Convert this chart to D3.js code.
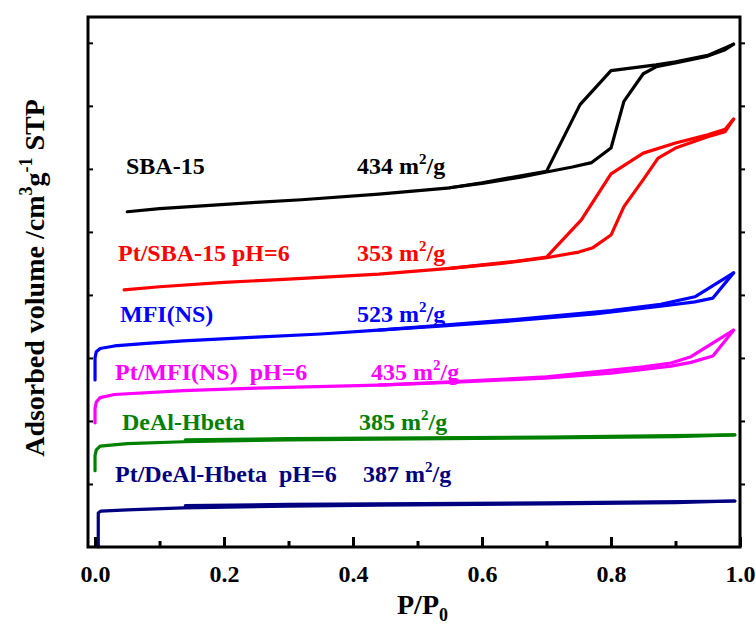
<!DOCTYPE html>
<html>
<head>
<meta charset="utf-8">
<script src="https://cdn.jsdelivr.net/npm/d3@7"></script>
<style>
  html, body { margin: 0; padding: 0; background: #fff; }
  svg { display: block; font-family: 'Liberation Serif', 'Times New Roman', serif; font-weight: bold; }
</style>
</head>
<body>
<div id="chart"></div>
<script>
// sample names and BET surface areas
const sampleNames = ['SBA-15', 'Pt/SBA-15 pH=6', 'MFI(NS)', 'Pt/MFI(NS)\u00a0\u00a0pH=6',
                     'DeAl-Hbeta', 'Pt/DeAl-Hbeta\u00a0\u00a0pH=6'];
const surfaceAreas = [434, 353, 523, 435, 385, 387];

// x axis tick values
const pTicks = [0.0, 0.2, 0.4, 0.6, 0.8, 1.0];
const pMinorTicks = [0.1, 0.3, 0.5, 0.7, 0.9];
// y axis ticks (no labels, offset units)
const vTicks = [1, 2, 3, 4, 5, 6, 7, 8];

// isotherms, [P/P0, volume] (curves offset vertically)
const sba15Ads = [[0.05, 5.32], [0.10, 5.37], [0.16, 5.41], [0.25, 5.47], [0.32, 5.51],
                  [0.44, 5.60], [0.55, 5.70], [0.60, 5.77], [0.66, 5.87], [0.70, 5.95],
                  [0.74, 6.03], [0.77, 6.10], [0.80, 6.33], [0.82, 7.07], [0.85, 7.51],
                  [0.87, 7.62], [0.90, 7.68], [0.95, 7.79], [0.977, 7.89], [0.99, 7.98]];
const sba15Des = [[0.99, 7.98], [0.95, 7.80], [0.90, 7.70], [0.87, 7.65], [0.80, 7.56],
                  [0.752, 7.02], [0.70, 5.96], [0.66, 5.89], [0.60, 5.78], [0.55, 5.70]];

const ptSbaAds = [[0.045, 4.08], [0.10, 4.13], [0.20, 4.20], [0.30, 4.25], [0.44, 4.33],
                  [0.55, 4.42], [0.63, 4.50], [0.70, 4.59], [0.75, 4.68], [0.772, 4.75],
                  [0.80, 4.95], [0.82, 5.40], [0.85, 5.83], [0.873, 6.17], [0.90, 6.33],
                  [0.95, 6.51], [0.977, 6.59], [0.99, 6.79]];
const ptSbaDes = [[0.99, 6.79], [0.977, 6.63], [0.95, 6.54], [0.90, 6.41], [0.85, 6.25],
                  [0.80, 5.92], [0.754, 5.19], [0.70, 4.60], [0.65, 4.53], [0.55, 4.42]];

const mfiAds = [[0.0, 2.65], [0.0, 3.00], [0.002, 3.10], [0.008, 3.15], [0.03, 3.19],
                [0.08, 3.23], [0.137, 3.27], [0.25, 3.33], [0.35, 3.38], [0.439, 3.44],
                [0.54, 3.51], [0.65, 3.59], [0.775, 3.70], [0.877, 3.82], [0.93, 3.89],
                [0.958, 3.95], [0.99, 4.35]];
const mfiDes = [[0.99, 4.35], [0.93, 3.97], [0.877, 3.85], [0.80, 3.75], [0.65, 3.61],
                [0.54, 3.52], [0.44, 3.44]];

const ptMfiAds = [[0.0, 1.97], [0.0, 2.20], [0.002, 2.30], [0.008, 2.37], [0.03, 2.42],
                  [0.137, 2.48], [0.25, 2.52], [0.439, 2.57], [0.55, 2.61], [0.698, 2.68],
                  [0.80, 2.76], [0.893, 2.87], [0.924, 2.93], [0.958, 3.03], [0.99, 3.44]];
const ptMfiDes = [[0.99, 3.44], [0.924, 3.02], [0.893, 2.92], [0.85, 2.86], [0.70, 2.70],
                  [0.55, 2.62], [0.44, 2.57]];

const dealAds = [[0.0, 1.21], [0.0, 1.45], [0.002, 1.54], [0.008, 1.60], [0.05, 1.64],
                 [0.137, 1.67], [0.30, 1.70], [0.439, 1.71], [0.70, 1.73], [0.90, 1.75],
                 [0.992, 1.78]];
const dealDes = [[0.992, 1.78], [0.70, 1.745], [0.30, 1.72], [0.14, 1.70]];

const ptDealAds = [[0.005, 0.0], [0.005, 0.30], [0.005, 0.54], [0.009, 0.57], [0.05, 0.59],
                   [0.137, 0.62], [0.30, 0.65], [0.439, 0.665], [0.70, 0.685], [0.90, 0.705],
                   [0.992, 0.73]];
const ptDealDes = [[0.992, 0.73], [0.70, 0.70], [0.30, 0.675], [0.14, 0.655]];

const isotherms = [[sba15Ads, sba15Des], [ptSbaAds, ptSbaDes], [mfiAds, mfiDes],
                   [ptMfiAds, ptMfiDes], [dealAds, dealDes], [ptDealAds, ptDealDes]];

function drawIsotherms(container) {
  const width = 756;
  const height = 626;
  const colors = ['#000000', '#ff0000', '#0000ff', '#ff00ff', '#008000', '#000080'];

  // plot frame in pixels
  const frame = {left: 88, right: 740, top: 17, bottom: 547};

  const svg = d3.select(container)
                .append('svg')
                .attr('width', width)
                .attr('height', height);

  const xScale = d3.scaleLinear()
                   .domain([-0.0109, 1.0])
                   .range([frame.left, frame.right]);

  const yScale = d3.scaleLinear()
                   .domain([0, 8.41])
                   .range([frame.bottom, frame.top]);

  const line = d3.line()
                 .x(d => xScale(d[0]))
                 .y(d => yScale(d[1]));

  // curves
  const g = svg.append('g');
  isotherms.forEach((branches, i) => {
    branches.forEach(branch => {
      g.append('path')
       .datum(branch)
       .attr('d', line)
       .attr('fill', 'none')
       .attr('stroke', colors[i])
       .attr('stroke-width', 3.2)
       .attr('stroke-linejoin', 'round')
       .attr('stroke-linecap', 'round');
    });
  });

  // bottom axis: major and minor ticks point inward
  const xAxis = svg.append('g')
                   .attr('transform', `translate(0, ${frame.bottom})`)
                   .call(d3.axisBottom(xScale)
                           .tickValues(pTicks)
                           .tickSizeInner(-10)
                           .tickSizeOuter(0)
                           .tickPadding(18)
                           .tickFormat(d3.format('.1f')));
  xAxis.select('.domain').remove();
  xAxis.selectAll('.tick line')
       .attr('stroke', '#000')
       .attr('stroke-width', 3);
  xAxis.selectAll('.tick text')
       .attr('fill', '#000')
       .attr('font-family', "'Liberation Serif', 'Times New Roman', serif")
       .attr('font-weight', 'bold')
       .attr('font-size', 24);

  const xMinor = svg.append('g')
                    .attr('transform', `translate(0, ${frame.bottom})`)
                    .call(d3.axisBottom(xScale)
                            .tickValues(pMinorTicks)
                            .tickSizeInner(-6)
                            .tickSizeOuter(0)
                            .tickFormat(''));
  xMinor.select('.domain').remove();
  xMinor.selectAll('.tick line')
        .attr('stroke', '#000')
        .attr('stroke-width', 3);

  // left ticks inward, right ticks outward
  const yLeft = svg.append('g')
                   .attr('transform', `translate(${frame.left}, 0)`)
                   .call(d3.axisLeft(yScale)
                           .tickValues(vTicks)
                           .tickSizeInner(-5)
                           .tickSizeOuter(0)
                           .tickFormat(''));
  yLeft.select('.domain').remove();
  yLeft.selectAll('.tick line')
       .attr('stroke', '#000')
       .attr('stroke-width', 2);

  const yRight = svg.append('g')
                    .attr('transform', `translate(${frame.right}, 0)`)
                    .call(d3.axisRight(yScale)
                            .tickValues(vTicks)
                            .tickSizeInner(5)
                            .tickSizeOuter(0)
                            .tickFormat(''));
  yRight.select('.domain').remove();
  yRight.selectAll('.tick line')
        .attr('stroke', '#000')
        .attr('stroke-width', 2);

  // frame
  svg.append('rect')
     .attr('x', frame.left)
     .attr('y', frame.top)
     .attr('width', frame.right - frame.left)
     .attr('height', frame.bottom - frame.top)
     .attr('fill', 'none')
     .attr('stroke', '#000')
     .attr('stroke-width', 3);

  // sample labels and surface areas
  const nameX = [126, 118, 120, 115, 122, 115];
  const areaX = [357, 357, 357, 371, 359, 363];
  const rowY = [174, 261, 322, 380, 430, 482];

  sampleNames.forEach((name, i) => {
    svg.append('text')
       .attr('x', nameX[i])
       .attr('y', rowY[i])
       .attr('fill', colors[i])
       .attr('font-size', 24)
       .text(name);

    const area = svg.append('text')
                    .attr('x', areaX[i])
                    .attr('y', rowY[i])
                    .attr('fill', colors[i])
                    .attr('font-size', 24);
    area.append('tspan').text(`${surfaceAreas[i]} m`);
    area.append('tspan').attr('dy', -10).attr('font-size', 15).text('2');
    area.append('tspan').attr('dy', 10).text('/g');
  });

  // axis titles
  const xTitle = svg.append('text')
                    .attr('x', 397)
                    .attr('y', 614)
                    .attr('font-size', 28);
  xTitle.append('tspan').text('P/P');
  xTitle.append('tspan').attr('dy', 7).attr('font-size', 18).text('0');

  const yTitle = svg.append('text')
                    .attr('transform', 'translate(44, 278) rotate(-90)')
                    .attr('text-anchor', 'middle')
                    .attr('font-size', 28);
  yTitle.append('tspan').text('Adsorbed volume /cm');
  yTitle.append('tspan').attr('dy', -12).attr('font-size', 18).text('3');
  yTitle.append('tspan').attr('dy', 12).text('g');
  yTitle.append('tspan').attr('dy', -12).attr('font-size', 18).text('-1');
  yTitle.append('tspan').attr('dy', 12).text(' STP');
}

drawIsotherms('#chart');
</script>
</body>
</html>
